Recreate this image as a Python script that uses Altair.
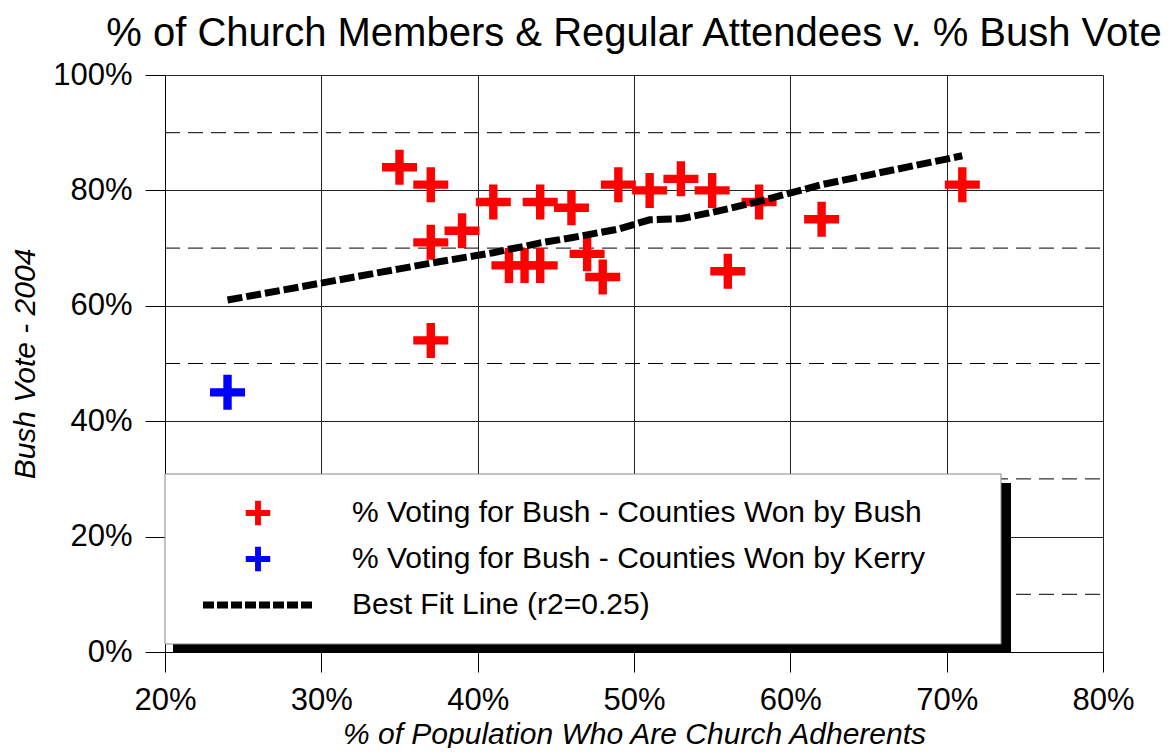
import altair as alt
import pandas as pd

# ---- data ----
bush_x = [35, 37, 37, 37, 39, 41, 42, 43, 44, 44, 46, 47, 48, 49, 51, 53, 55, 56, 58, 62, 71]
bush_y = [84, 81, 71, 54, 73, 78, 67, 67, 78, 67, 77, 69, 65, 81, 80, 82, 80, 66, 78, 75, 81]
kerry_x = [24]
kerry_y = [45]
fit_x = [24, 35, 37, 39, 41, 42, 43, 44, 46, 47, 48, 49, 51, 53, 55, 56, 58, 62, 71]
fit_y = [61.0, 66.4, 67.4, 68.3, 69.2, 69.8, 70.3, 70.9, 71.8, 72.3, 72.8, 73.3, 74.9, 75.1,
         76.2, 76.8, 78.1, 81.0, 86.0]
x_ticks = [20, 30, 40, 50, 60, 70, 80]
y_ticks = [0, 20, 40, 60, 80, 100]
minor_grid = [10, 30, 50, 70, 90]
legend_labels = [
    "% Voting for Bush - Counties Won by Bush",
    "% Voting for Bush - Counties Won by Kerry",
    "Best Fit Line (r2=0.25)",
]
chart_title = "% of Church Members & Regular Attendees v. % Bush Vote"
x_title = "% of Population Who Are Church Adherents"
y_title = "Bush Vote - 2004"

# ---- styling ----
W, H = 938, 577
FONT = "Liberation Sans"
CROSS = "M-1,-0.24H-0.24V-1H0.24V-0.24H1V0.24H0.24V1H-0.24V0.24H-1Z"

x_scale = alt.Scale(domain=[20, 80], nice=False, zero=False)
y_scale = alt.Scale(domain=[0, 100], nice=False, zero=False)

X_AXIS = alt.Axis(
    values=x_ticks, labelExpr="datum.value + '%'", title=x_title,
    tickSize=20, tickColor="black", domainColor="black", grid=True,
    gridColor="#222222", gridWidth=1, labelFontSize=31, labelFont=FONT,
    labelColor="black", labelPadding=13, labelFlush=False,
    titleFont=FONT, titleFontSize=30, titleFontStyle="italic",
    titleFontWeight="normal", titleColor="black", titlePadding=4,
)
Y_AXIS = alt.Axis(
    values=y_ticks, labelExpr="datum.value + '%'", title=y_title,
    tickSize=20, tickColor="black", domainColor="black", grid=True,
    gridColor="#222222", gridWidth=1, labelFontSize=31, labelFont=FONT,
    labelColor="black", labelPadding=13, labelFlush=False,
    titleFont=FONT, titleFontSize=30, titleFontStyle="italic",
    titleFontWeight="normal", titleColor="black", titlePadding=12,
)

bush_df = pd.DataFrame({"x": bush_x, "y": bush_y})
kerry_df = pd.DataFrame({"x": kerry_x, "y": kerry_y})
fit_df = pd.DataFrame({"x": fit_x, "y": fit_y})
minor_df = pd.DataFrame({"v": minor_grid})
one = pd.DataFrame({"k": [0]})

minor = alt.Chart(minor_df).mark_rule(color="black", strokeDash=[15, 8], strokeWidth=1).encode(
    y=alt.Y("v:Q", scale=y_scale, axis=Y_AXIS),
    x=alt.value(0), x2=alt.value(W),
)

bush = alt.Chart(bush_df).mark_point(
    shape=CROSS, filled=True, size=1225, color="#FF0000", opacity=1, strokeWidth=0
).encode(
    x=alt.X("x:Q", scale=x_scale, axis=X_AXIS),
    y=alt.Y("y:Q", scale=y_scale, axis=Y_AXIS),
)

kerry = alt.Chart(kerry_df).mark_point(
    shape=CROSS, filled=True, size=1225, color="#0000FF", opacity=1, strokeWidth=0
).encode(
    x=alt.X("x:Q", scale=x_scale, axis=X_AXIS),
    y=alt.Y("y:Q", scale=y_scale, axis=Y_AXIS),
)

fit = alt.Chart(fit_df).mark_line(
    color="black", strokeWidth=7, strokeDash=[15, 4], strokeCap="butt"
).encode(
    x=alt.X("x:Q", scale=x_scale, axis=X_AXIS),
    y=alt.Y("y:Q", scale=y_scale, axis=Y_AXIS),
)

# ---- hand-built legend box ----
shadow = alt.Chart(one).mark_rect(color="black").encode(
    x=alt.value(8), x2=alt.value(846), y=alt.value(408), y2=alt.value(578)
)
box = alt.Chart(one).mark_rect(fill="white", stroke="#888888", strokeWidth=1).encode(
    x=alt.value(0), x2=alt.value(836), y=alt.value(399), y2=alt.value(569)
)
leg_y = [438, 484, 530]
leg_red = alt.Chart(one).mark_point(
    shape=CROSS, filled=True, size=600, color="#FF0000", opacity=1, strokeWidth=0
).encode(x=alt.value(93), y=alt.value(leg_y[0]))
leg_blue = alt.Chart(one).mark_point(
    shape=CROSS, filled=True, size=600, color="#0000FF", opacity=1, strokeWidth=0
).encode(x=alt.value(93), y=alt.value(leg_y[1]))
leg_line = alt.Chart(one).mark_rule(
    color="black", strokeWidth=7, strokeDash=[11, 3], strokeCap="butt"
).encode(x=alt.value(38), x2=alt.value(148), y=alt.value(leg_y[2]))
leg_texts = [
    alt.Chart(one).mark_text(
        align="left", baseline="middle", font=FONT, fontSize=30, color="black"
    ).encode(x=alt.value(187), y=alt.value(yy), text=alt.value(lab))
    for lab, yy in zip(legend_labels, leg_y)
]

chart = alt.layer(
    minor, bush, kerry, fit, shadow, box, leg_red, leg_blue, leg_line, *leg_texts
).properties(
    width=W, height=H,
    title=alt.TitleParams(
        chart_title, font=FONT, fontSize=40, fontWeight="normal", color="black",
        anchor="middle", offset=5,
    ),
    autosize=alt.AutoSizeParams(type="none"),
    padding={"left": 157, "top": 67, "right": 63, "bottom": 96},
).configure_view(stroke="black", strokeWidth=1).configure(background="white")

chart.save("out.html", embed_options={"renderer": "svg", "actions": False})
